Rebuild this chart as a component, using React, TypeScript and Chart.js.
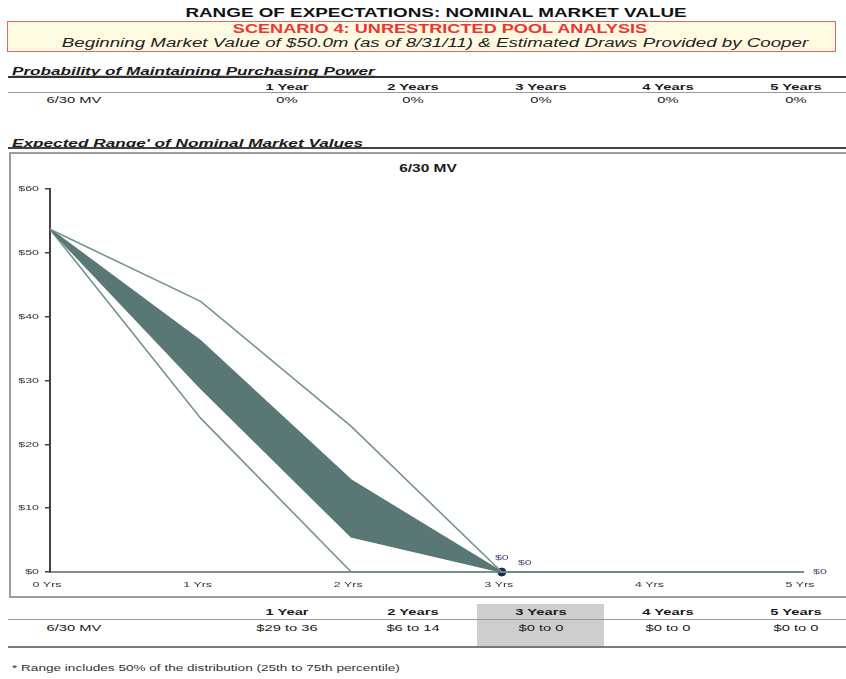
import React, { useEffect, useLayoutEffect, useRef } from "react";
import { Chart, registerables } from "chart.js";

Chart.register(...registerables);

// ---------- data ----------
const xLabels = ["0 Yrs", "1 Yrs", "2 Yrs", "3 Yrs", "4 Yrs", "5 Yrs"];
const upperOuter = [53.7, 42.4, 22.8, 0, 0, 0];
const p75 = [53.7, 36.2, 14.4, 0, 0, 0];
const p25 = [53.7, 28.8, 5.5, 0, 0, 0];
const lowerOuter = [53.7, 24.1, 0, 0, 0, 0];
const endPoint = [null, null, null, 0, null, null];
const yMin = 0;
const yMax = 60;
const yStep = 10;

const periods = ["1 Year", "2 Years", "3 Years", "4 Years", "5 Years"];
const rowLabel = "6/30 MV";
const probValues = ["0%", "0%", "0%", "0%", "0%"];
const rangeValues = ["$29 to 36", "$6 to 14", "$0 to 0", "$0 to 0", "$0 to 0"];

// ---------- look ----------
const FONT = '"Liberation Sans", Arial, Helvetica, sans-serif';
const SX = 1.55;
const colX = [286.5, 413, 540.5, 668, 796];

type TP = {
  x: number;
  y: number;
  text: string;
  w?: number;
  sx?: number;
  align?: "center" | "left";
  size: number;
  bold?: boolean;
  italic?: boolean;
  underline?: boolean;
  color?: string;
};

function T({ x, y, text, w, sx = SX, align = "center", size, bold, italic, underline, color = "#1a1a1a" }: TP) {
  const ref = useRef<HTMLSpanElement>(null);
  useLayoutEffect(() => {
    const el = ref.current;
    if (!el) return;
    const nat = el.offsetWidth;
    const s = w ? w / nat : sx;
    if (align === "center") {
      el.style.transformOrigin = "center center";
      el.style.transform = `translate(-50%, -50%) scaleX(${s})`;
    } else {
      el.style.transformOrigin = "left center";
      el.style.transform = `translateY(-50%) scaleX(${s})`;
    }
  });
  return (
    <span
      ref={ref}
      style={{
        position: "absolute",
        left: x,
        top: y,
        whiteSpace: "nowrap",
        lineHeight: 1,
        fontFamily: FONT,
        fontSize: size,
        fontWeight: bold ? 700 : 400,
        fontStyle: italic ? "italic" : "normal",
        textDecoration: underline ? "underline" : "none",
        color,
      }}
    >
      {text}
    </span>
  );
}

function Rule({ top, h, color, left = 8, width = 846 }: { top: number; h: number; color: string; left?: number; width?: number }) {
  return <div style={{ position: "absolute", left, top, width: width - left, height: h, background: color }} />;
}

const labelPlugin = {
  id: "stretchedLabels",
  afterDraw(chart: any) {
    const ctx = chart.ctx as CanvasRenderingContext2D;
    const xs = chart.scales.x;
    const ys = chart.scales.y;
    ctx.save();
    ctx.font = `8px ${FONT}`;
    ctx.fillStyle = "#333";
    ctx.textBaseline = "middle";
    // y tick labels
    ys.ticks.forEach((t: any, i: number) => {
      const py = ys.getPixelForTick(i);
      ctx.save();
      ctx.translate(ys.right - 11, py);
      ctx.scale(SX, 1);
      ctx.textAlign = "right";
      ctx.fillText(`$${t.value}`, 0, 0);
      ctx.restore();
    });
    // x tick labels
    xs.ticks.forEach((t: any, i: number) => {
      const px = xs.getPixelForTick(i);
      ctx.save();
      ctx.translate(px - 3, xs.top + 13);
      ctx.scale(SX, 1);
      ctx.textAlign = "center";
      ctx.fillText(String(xLabels[t.value] ?? t.label), 0, 0);
      ctx.restore();
    });
    // value labels
    ctx.fillStyle = "#454578";
    const labs: [number[], number, number, number, CanvasTextAlign][] = [
      [upperOuter, 3, 0, -14, "center"],
      [p75, 3, 23, -9, "center"],
      [p75, 5, 10, 0, "left"],
    ];
    labs.forEach(([series, idx, dx, dy, align]) => {
      const px = xs.getPixelForValue(idx);
      const py = ys.getPixelForValue(series[idx]);
      ctx.save();
      ctx.translate(px + dx, py + dy);
      ctx.scale(SX, 1);
      ctx.textAlign = align;
      ctx.fillText(`$${series[idx]}`, 0, 0);
      ctx.restore();
    });
    ctx.restore();
  },
};

function RangeChart() {
  const ref = useRef<HTMLCanvasElement>(null);
  useEffect(() => {
    const band = "#587775";
    const outer = "#739390";
    const chart = new Chart(ref.current!, {
      type: "line",
      data: {
        labels: xLabels,
        datasets: [
          { label: "upper", data: upperOuter, borderColor: outer, borderWidth: 1.6, pointRadius: 0, fill: false, clip: 10 } as any,
          { label: "p75", data: p75, borderColor: band, backgroundColor: band, borderWidth: 1.5, pointRadius: 0, fill: "+1", clip: 10 } as any,
          { label: "p25", data: p25, borderColor: band, borderWidth: 1.5, pointRadius: 0, fill: false, clip: 10 } as any,
          { label: "lower", data: lowerOuter, borderColor: outer, borderWidth: 1.6, pointRadius: 0, fill: false, clip: 10 } as any,
          { label: "end", data: endPoint, showLine: false, pointRadius: 4, pointBackgroundColor: "#1c2a4c", pointBorderColor: "#1c2a4c", clip: 10 } as any,
        ],
      },
      options: {
        animation: false,
        responsive: false,
        maintainAspectRatio: false,
        events: [],
        layout: { padding: { top: 39, right: 43, bottom: 0, left: 0 } },
        plugins: { legend: { display: false }, tooltip: { enabled: false } },
        scales: {
          x: {
            type: "category",
            offset: false,
            grid: { display: false },
            border: { display: true, color: "#8c8c8c", width: 2 },
            ticks: { color: "rgba(0,0,0,0)", font: { size: 8, family: FONT }, padding: 8, maxRotation: 0, autoSkip: false },
            afterFit: (s: any) => {
              s.height = 26;
            },
          },
          y: {
            min: yMin,
            max: yMax,
            ticks: { stepSize: yStep, color: "rgba(0,0,0,0)", font: { size: 8, family: FONT }, padding: 6 },
            grid: { drawOnChartArea: false, drawTicks: true, tickLength: 5, color: "#444", lineWidth: 1.5 },
            border: { display: true, color: "#444", width: 2 },
            afterFit: (s: any) => {
              s.width = 50;
            },
          },
        },
      } as any,
      plugins: [labelPlugin],
    });
    return () => chart.destroy();
  }, []);
  return <canvas ref={ref} width={846} height={448} style={{ position: "absolute", left: 0, top: 150 }} />;
}

export default function App() {
  return (
    <div style={{ position: "fixed", left: 0, top: 0, width: 846, height: 679, background: "#fff", overflow: "hidden" }}>
      <T x={435.5} y={12.5} text="RANGE OF EXPECTATIONS: NOMINAL MARKET VALUE" w={501} size={12} bold color="#111" />
      <div style={{ position: "absolute", left: 7, top: 21, width: 829, height: 31, boxSizing: "border-box", border: "1.5px solid #e46262", background: "#fffbe2" }} />
      <T x={440} y={28.5} text="SCENARIO 4: UNRESTRICTED POOL ANALYSIS" w={414} size={12} bold color="#f03434" />
      <T x={435} y={43} text="Beginning Market Value of $50.0m (as of 8/31/11) & Estimated Draws Provided by Cooper" w={746} size={12} italic color="#222" />

      <T x={12} y={71} text="Probability of Maintaining Purchasing Power" w={363} size={10.5} bold italic underline align="left" />
      <Rule top={76} h={2} color="#333" />
      {periods.map((p, i) => (
        <T key={"ph" + i} x={colX[i]} y={86.5} text={p} size={9.5} bold />
      ))}
      <Rule top={92} h={1} color="#9a9a9a" />
      <T x={74} y={99.5} text={rowLabel} size={9.5} />
      {probValues.map((v, i) => (
        <T key={"pv" + i} x={colX[i]} y={99.5} text={v} size={9.5} />
      ))}

      <T x={12} y={142.5} text="Expected Range' of Nominal Market Values" w={352} size={10.5} bold italic underline align="left" />
      <Rule top={147} h={2} color="#444" />
      <div style={{ position: "absolute", left: 9, top: 152, width: 850, height: 446, boxSizing: "border-box", border: "2px solid #9c9c9c" }} />
      <T x={428} y={168.5} text="6/30 MV" size={10} bold />
      <RangeChart />

      <div style={{ position: "absolute", left: 477, top: 604, width: 127, height: 42, background: "#cecece" }} />
      {periods.map((p, i) => (
        <T key={"rh" + i} x={colX[i]} y={611.5} text={p} size={9.5} bold />
      ))}
      <Rule top={619} h={1} color="#9a9a9a" />
      <T x={74} y={627.5} text={rowLabel} size={9.5} />
      {rangeValues.map((v, i) => (
        <T key={"rv" + i} x={colX[i]} y={627.5} text={v} size={9.5} />
      ))}
      <Rule top={646} h={2} color="#7a7a7a" />
      <T x={12} y={667.5} text="* Range includes 50% of the distribution (25th to 75th percentile)" w={388} size={8.5} align="left" color="#333" />
    </div>
  );
}
